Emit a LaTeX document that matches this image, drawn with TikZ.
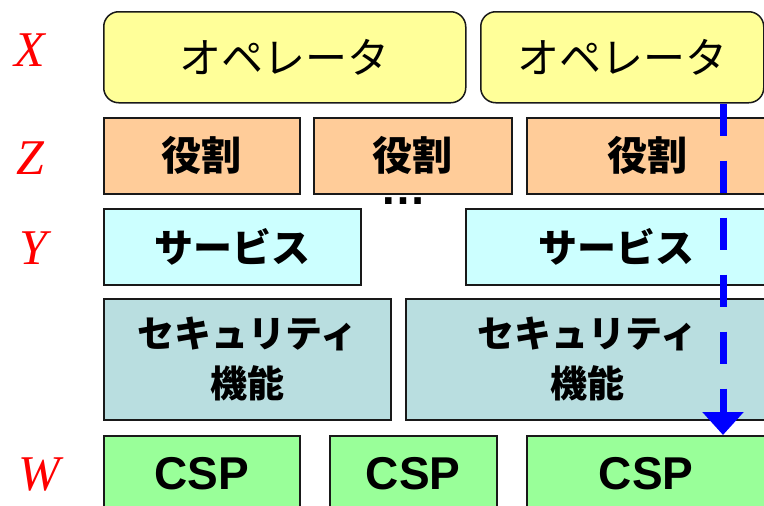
\documentclass[tikz,border=0pt]{standalone}
\usepackage{fontspec}
\setmainfont{Liberation Sans}
\newfontfamily\jp{Noto Sans CJK JP}
\newfontfamily\lbl{Liberation Serif}
\usetikzlibrary{arrows.meta}
\definecolor{opfill}{HTML}{FFFF99}
\definecolor{rolefill}{HTML}{FFCC99}
\definecolor{svcfill}{HTML}{CCFFFF}
\definecolor{secfill}{HTML}{B9DEE0}
\definecolor{cspfill}{HTML}{99FF99}
\definecolor{lblred}{HTML}{FF0000}
\definecolor{arrblue}{HTML}{0000FF}
\tikzset{
  box/.style={draw=black!90, line width=1.5pt, anchor=north west, inner sep=0pt, text=black},
  opbox/.style={box, fill=opfill, rounded corners=15pt, minimum height=91pt, font=\jp\fontsize{42}{50}\selectfont},
  rolebox/.style={box, fill=rolefill, minimum height=76pt, font=\jp\bfseries\fontsize{40}{48}\selectfont},
  svcbox/.style={box, fill=svcfill, minimum height=76pt, font=\jp\bfseries\fontsize{39}{47}\selectfont},
  secbox/.style={box, fill=secfill, minimum height=121pt, align=center, font=\jp\bfseries\fontsize{37}{50}\selectfont},
  cspbox/.style={box, fill=cspfill, minimum height=76pt, font=\bfseries\fontsize{46}{54}\selectfont},
  lbl/.style={text=lblred, font=\lbl\itshape\fontsize{50}{60}\selectfont, inner sep=0pt},
  flow/.style={draw=arrblue, line width=7pt, dash pattern=on 32pt off 25pt, -{Triangle[width=40pt,length=23pt]}}
}
\begin{document}
\begin{tikzpicture}[x=1pt,y=-1pt]
\useasboundingbox (0,0) rectangle (764,506);
\clip (0,0) rectangle (764,506);
% row X
\node[opbox, minimum width=362pt] (op1) at (103,11) {オペレータ};
\node[opbox, minimum width=283pt] (op2) at (480,11) {オペレータ};
% row Z
\node[rolebox, minimum width=196pt] (r1) at (103,117) {役割};
\node[rolebox, minimum width=198pt] (r2) at (313,117) {役割};
\node[rolebox, minimum width=242pt] (r3) at (526,117) {役割};
\node[font=\bfseries\fontsize{46}{54}\selectfont, inner sep=0pt, anchor=base, text height=5pt, text depth=0pt] (dots) at (403,204) {\smash{…}};
% row Y
\node[svcbox, minimum width=257pt] (s1) at (103,208) {サービス};
\node[svcbox, minimum width=302pt] (s2) at (465,208) {サービス};
% security
\node[secbox, minimum width=287pt] (f1) at (103,298) {セキュリティ\\機能};
\node[secbox, minimum width=364pt] (f2) at (405,298) {セキュリティ\\機能};
% row W
\node[cspbox, minimum width=196pt] (c1) at (103,435) {CSP};
\node[cspbox, minimum width=167pt] (c2) at (329,435) {CSP};
\node[cspbox, minimum width=239pt] (c3) at (526,435) {CSP};
% labels
\node[lbl] (lx) at (30,50) {X};
\node[lbl] (lz) at (30,158) {Z};
\node[lbl] (ly) at (33,248) {Y};
\node[lbl] (lw) at (39,475) {W};
% arrow
\coordinate (ax) at (723,0);
\draw[flow] (op2.south -| ax) -- (c3.north -| ax);
\end{tikzpicture}
\end{document}
